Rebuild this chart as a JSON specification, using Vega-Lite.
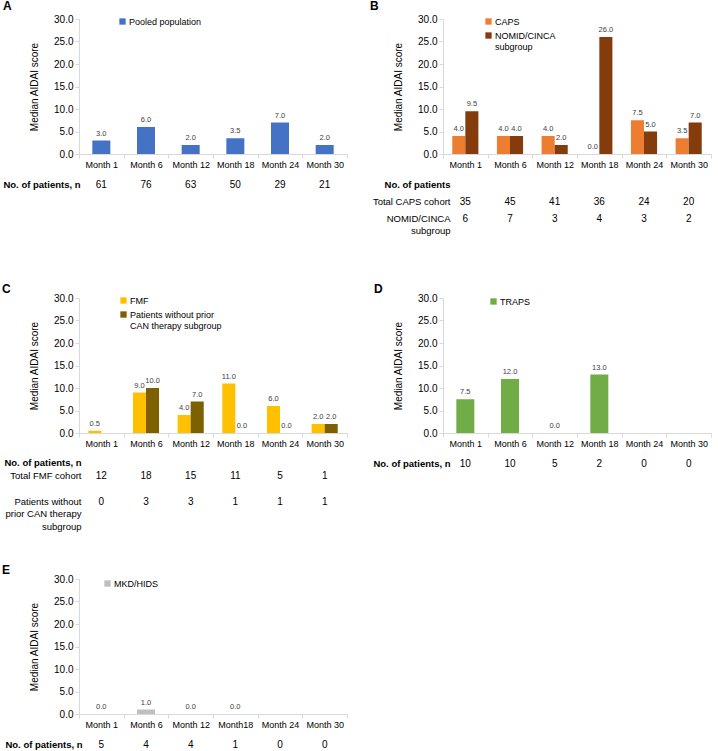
{
  "$schema": "https://vega.github.io/schema/vega-lite/v6.json",
  "autosize": {"type": "pad"},
  "padding": {"left": 2, "top": -1, "right": 0, "bottom": 0},
  "config": {
    "font": "Liberation Sans",
    "view": {"stroke": null},
    "axis": {"labelColor": "#000", "titleColor": "#000", "domainColor": "#D9D9D9", "tickColor": "#D9D9D9", "grid": false},
    "legend": {"symbolType": "square", "symbolSize": 40, "symbolStrokeWidth": 0, "labelFontSize": 9, "labelColor": "#000", "labelOffset": 2, "rowPadding": 4, "padding": 0, "labelLimit": 300},
    "title": {"anchor": "start", "frame": "group", "fontSize": 12, "fontWeight": "bold", "offset": 1.2, "color": "#000"}
  },
  "datasets": {
    "bars": [
      {"panel": "A", "month": "Month 1", "series": "Pooled population", "value": 3.0},
      {"panel": "A", "month": "Month 6", "series": "Pooled population", "value": 6.0},
      {"panel": "A", "month": "Month 12", "series": "Pooled population", "value": 2.0},
      {"panel": "A", "month": "Month 18", "series": "Pooled population", "value": 3.5},
      {"panel": "A", "month": "Month 24", "series": "Pooled population", "value": 7.0},
      {"panel": "A", "month": "Month 30", "series": "Pooled population", "value": 2.0},
      {"panel": "B", "month": "Month 1", "series": "CAPS", "value": 4.0},
      {"panel": "B", "month": "Month 6", "series": "CAPS", "value": 4.0},
      {"panel": "B", "month": "Month 12", "series": "CAPS", "value": 4.0},
      {"panel": "B", "month": "Month 18", "series": "CAPS", "value": 0.0},
      {"panel": "B", "month": "Month 24", "series": "CAPS", "value": 7.5},
      {"panel": "B", "month": "Month 30", "series": "CAPS", "value": 3.5},
      {"panel": "B", "month": "Month 1", "series": "NOMID/CINCA subgroup", "value": 9.5},
      {"panel": "B", "month": "Month 6", "series": "NOMID/CINCA subgroup", "value": 4.0},
      {"panel": "B", "month": "Month 12", "series": "NOMID/CINCA subgroup", "value": 2.0},
      {"panel": "B", "month": "Month 18", "series": "NOMID/CINCA subgroup", "value": 26.0},
      {"panel": "B", "month": "Month 24", "series": "NOMID/CINCA subgroup", "value": 5.0},
      {"panel": "B", "month": "Month 30", "series": "NOMID/CINCA subgroup", "value": 7.0},
      {"panel": "C", "month": "Month 1", "series": "FMF", "value": 0.5},
      {"panel": "C", "month": "Month 6", "series": "FMF", "value": 9.0},
      {"panel": "C", "month": "Month 12", "series": "FMF", "value": 4.0},
      {"panel": "C", "month": "Month 18", "series": "FMF", "value": 11.0},
      {"panel": "C", "month": "Month 24", "series": "FMF", "value": 6.0},
      {"panel": "C", "month": "Month 30", "series": "FMF", "value": 2.0},
      {"panel": "C", "month": "Month 6", "series": "Patients without prior CAN therapy subgroup", "value": 10.0},
      {"panel": "C", "month": "Month 12", "series": "Patients without prior CAN therapy subgroup", "value": 7.0},
      {"panel": "C", "month": "Month 18", "series": "Patients without prior CAN therapy subgroup", "value": 0.0},
      {"panel": "C", "month": "Month 24", "series": "Patients without prior CAN therapy subgroup", "value": 0.0},
      {"panel": "C", "month": "Month 30", "series": "Patients without prior CAN therapy subgroup", "value": 2.0},
      {"panel": "D", "month": "Month 1", "series": "TRAPS", "value": 7.5},
      {"panel": "D", "month": "Month 6", "series": "TRAPS", "value": 12.0},
      {"panel": "D", "month": "Month 12", "series": "TRAPS", "value": 0.0},
      {"panel": "D", "month": "Month 18", "series": "TRAPS", "value": 13.0},
      {"panel": "E", "month": "Month 1", "series": "MKD/HIDS", "value": 0.0},
      {"panel": "E", "month": "Month 6", "series": "MKD/HIDS", "value": 1.0},
      {"panel": "E", "month": "Month 12", "series": "MKD/HIDS", "value": 0.0},
      {"panel": "E", "month": "Month 18", "series": "MKD/HIDS", "value": 0.0}
    ],
    "counts": [
      {"panel": "A", "row": "No. of patients, n", "month": "Month 1", "n": 61},
      {"panel": "A", "row": "No. of patients, n", "month": "Month 6", "n": 76},
      {"panel": "A", "row": "No. of patients, n", "month": "Month 12", "n": 63},
      {"panel": "A", "row": "No. of patients, n", "month": "Month 18", "n": 50},
      {"panel": "A", "row": "No. of patients, n", "month": "Month 24", "n": 29},
      {"panel": "A", "row": "No. of patients, n", "month": "Month 30", "n": 21},
      {"panel": "B", "row": "Total CAPS cohort", "month": "Month 1", "n": 35},
      {"panel": "B", "row": "Total CAPS cohort", "month": "Month 6", "n": 45},
      {"panel": "B", "row": "Total CAPS cohort", "month": "Month 12", "n": 41},
      {"panel": "B", "row": "Total CAPS cohort", "month": "Month 18", "n": 36},
      {"panel": "B", "row": "Total CAPS cohort", "month": "Month 24", "n": 24},
      {"panel": "B", "row": "Total CAPS cohort", "month": "Month 30", "n": 20},
      {"panel": "B", "row": "NOMID/CINCA subgroup", "month": "Month 1", "n": 6},
      {"panel": "B", "row": "NOMID/CINCA subgroup", "month": "Month 6", "n": 7},
      {"panel": "B", "row": "NOMID/CINCA subgroup", "month": "Month 12", "n": 3},
      {"panel": "B", "row": "NOMID/CINCA subgroup", "month": "Month 18", "n": 4},
      {"panel": "B", "row": "NOMID/CINCA subgroup", "month": "Month 24", "n": 3},
      {"panel": "B", "row": "NOMID/CINCA subgroup", "month": "Month 30", "n": 2},
      {"panel": "C", "row": "Total FMF cohort", "month": "Month 1", "n": 12},
      {"panel": "C", "row": "Total FMF cohort", "month": "Month 6", "n": 18},
      {"panel": "C", "row": "Total FMF cohort", "month": "Month 12", "n": 15},
      {"panel": "C", "row": "Total FMF cohort", "month": "Month 18", "n": 11},
      {"panel": "C", "row": "Total FMF cohort", "month": "Month 24", "n": 5},
      {"panel": "C", "row": "Total FMF cohort", "month": "Month 30", "n": 1},
      {"panel": "C", "row": "Patients without prior CAN therapy subgroup", "month": "Month 1", "n": 0},
      {"panel": "C", "row": "Patients without prior CAN therapy subgroup", "month": "Month 6", "n": 3},
      {"panel": "C", "row": "Patients without prior CAN therapy subgroup", "month": "Month 12", "n": 3},
      {"panel": "C", "row": "Patients without prior CAN therapy subgroup", "month": "Month 18", "n": 1},
      {"panel": "C", "row": "Patients without prior CAN therapy subgroup", "month": "Month 24", "n": 1},
      {"panel": "C", "row": "Patients without prior CAN therapy subgroup", "month": "Month 30", "n": 1},
      {"panel": "D", "row": "No. of patients, n", "month": "Month 1", "n": 10},
      {"panel": "D", "row": "No. of patients, n", "month": "Month 6", "n": 10},
      {"panel": "D", "row": "No. of patients, n", "month": "Month 12", "n": 5},
      {"panel": "D", "row": "No. of patients, n", "month": "Month 18", "n": 2},
      {"panel": "D", "row": "No. of patients, n", "month": "Month 24", "n": 0},
      {"panel": "D", "row": "No. of patients, n", "month": "Month 30", "n": 0},
      {"panel": "E", "row": "No. of patients, n", "month": "Month 1", "n": 5},
      {"panel": "E", "row": "No. of patients, n", "month": "Month 6", "n": 4},
      {"panel": "E", "row": "No. of patients, n", "month": "Month 12", "n": 4},
      {"panel": "E", "row": "No. of patients, n", "month": "Month 18", "n": 1},
      {"panel": "E", "row": "No. of patients, n", "month": "Month 24", "n": 0},
      {"panel": "E", "row": "No. of patients, n", "month": "Month 30", "n": 0}
    ]
  },
  "spacing": 22,
  "resolve": {"scale": {"x": "independent", "y": "independent", "color": "independent", "xOffset": "independent"}, "legend": {"color": "independent"}},
  "hconcat": [
    {
      "bounds": "flush",
      "spacing": 0,
      "resolve": {"scale": {"x": "independent", "y": "independent", "color": "independent", "xOffset": "independent"}, "legend": {"color": "independent"}},
      "vconcat": [
        {
          "width": 268, "height": 135,
          "title": {"text": "A", "dx": -76},
          "data": {"name": "bars"},
          "transform": [{"filter": "datum.panel == 'A'"}],
          "encoding": {
            "x": {"field": "month", "type": "nominal", "scale": {"type": "band", "domain": ["Month 1", "Month 6", "Month 12", "Month 18", "Month 24", "Month 30"], "paddingInner": 0, "paddingOuter": 0}, "axis": {"title": null, "labelAngle": 0, "labelFontSize": 9, "tickBand": "extent", "tickSize": 4, "labelPadding": 2}},
            "xOffset": {"field": "series", "scale": {"domain": ["Pooled population"], "paddingInner": 0, "paddingOuter": 0.74}},
            "y": {"field": "value", "type": "quantitative", "scale": {"domain": [0, 30]}, "axis": {"title": "Median AIDAI score", "values": [0, 5, 10, 15, 20, 25, 30], "format": ".1f", "labelFontSize": 10, "titleFontSize": 10, "titleFontWeight": "normal", "titlePadding": 14, "tickSize": 4, "labelPadding": 2}}
          },
          "layer": [
            {"mark": {"type": "bar"}, "encoding": {"color": {"field": "series", "type": "nominal", "scale": {"domain": ["Pooled population"], "range": ["#4472C4"]}, "legend": {"orient": "none", "legendX": 39, "legendY": -2, "title": null}}}},
            {"mark": {"type": "text", "dy": -7, "fontSize": 7.5, "color": "#404040"}, "encoding": {"text": {"field": "value", "type": "quantitative", "format": ".1f"}}}
          ]
        },
        {
          "width": 268, "height": 144,
          "data": {"name": "counts"},
          "transform": [{"filter": "datum.panel == 'A'"}],
          "mark": {"type": "text", "fontSize": 10, "color": "#000"},
          "encoding": {
            "x": {"field": "month", "type": "nominal", "scale": {"type": "band", "domain": ["Month 1", "Month 6", "Month 12", "Month 18", "Month 24", "Month 30"], "paddingInner": 0, "paddingOuter": 0}, "axis": null},
            "y": {"field": "row", "type": "nominal", "scale": {"type": "band", "domain": [" ", "No. of patients, n", "  ", "   ", "    ", "     ", "      ", "       "], "paddingInner": 0, "paddingOuter": 0.235, "align": 0.75}, "axis": {"title": null, "domain": false, "ticks": false, "tickSize": 0, "labelPadding": -1, "labelFontSize": 9.5, "labelFontWeight": "bold", "labelLimit": 200}},
            "text": {"field": "n", "type": "quantitative"}
          }
        },
        {
          "width": 268, "height": 135,
          "title": {"text": "C", "dx": -77, "offset": -2.8},
          "data": {"name": "bars"},
          "transform": [{"filter": "datum.panel == 'C'"}],
          "encoding": {
            "x": {"field": "month", "type": "nominal", "scale": {"type": "band", "domain": ["Month 1", "Month 6", "Month 12", "Month 18", "Month 24", "Month 30"], "paddingInner": 0, "paddingOuter": 0}, "axis": {"title": null, "labelAngle": 0, "labelFontSize": 9, "tickBand": "extent", "tickSize": 4, "labelPadding": 2}},
            "xOffset": {"field": "series", "scale": {"domain": ["FMF", "Patients without prior CAN therapy subgroup"], "paddingInner": 0, "paddingOuter": 0.71}},
            "y": {"field": "value", "type": "quantitative", "scale": {"domain": [0, 30]}, "axis": {"title": "Median AIDAI score", "values": [0, 5, 10, 15, 20, 25, 30], "format": ".1f", "labelFontSize": 10, "titleFontSize": 10, "titleFontWeight": "normal", "titlePadding": 14, "tickSize": 4, "labelPadding": 2}}
          },
          "layer": [
            {"mark": {"type": "bar"}, "encoding": {"color": {"field": "series", "type": "nominal", "scale": {"domain": ["FMF", "Patients without prior CAN therapy subgroup"], "range": ["#FFC000", "#7F6000"]}, "legend": {"orient": "none", "legendX": 40, "legendY": -2, "title": null, "labelExpr": "datum.label == 'FMF' ? 'FMF' : ['Patients without prior', 'CAN therapy subgroup']"}}}},
            {"mark": {"type": "text", "dy": -7, "fontSize": 7.5, "color": "#404040"}, "encoding": {"text": {"field": "value", "type": "quantitative", "format": ".1f"}}}
          ]
        },
        {
          "width": 268, "height": 146,
          "data": {"name": "counts"},
          "transform": [{"filter": "datum.panel == 'C'"}],
          "mark": {"type": "text", "fontSize": 10, "color": "#000"},
          "encoding": {
            "x": {"field": "month", "type": "nominal", "scale": {"type": "band", "domain": ["Month 1", "Month 6", "Month 12", "Month 18", "Month 24", "Month 30"], "paddingInner": 0, "paddingOuter": 0}, "axis": null},
            "y": {"field": "row", "type": "nominal", "scale": {"type": "band", "domain": [" ", "No. of patients, n", "Total FMF cohort", "  ", "Patients without prior CAN therapy subgroup", "   ", "    ", "     ", "      ", "       "], "paddingInner": 0, "paddingOuter": 0.615, "align": 0.656}, "axis": {"title": null, "domain": false, "ticks": false, "tickSize": 0, "labelPadding": -2, "labelFontSize": 9.5, "labelLineHeight": 12.5, "labelLimit": 200, "labelFontWeight": {"expr": "datum.value == 'No. of patients, n' ? 'bold' : 'normal'"}, "labelExpr": "datum.value == 'Patients without prior CAN therapy subgroup' ? ['Patients without', 'prior CAN therapy', 'subgroup'] : datum.value"}},
            "text": {"field": "n", "type": "quantitative"}
          }
        },
        {
          "width": 268, "height": 135,
          "title": {"text": "E", "dx": -77, "offset": -2.8},
          "data": {"name": "bars"},
          "transform": [{"filter": "datum.panel == 'E'"}],
          "encoding": {
            "x": {"field": "month", "type": "nominal", "scale": {"type": "band", "domain": ["Month 1", "Month 6", "Month 12", "Month 18", "Month 24", "Month 30"], "paddingInner": 0, "paddingOuter": 0}, "axis": {"title": null, "labelAngle": 0, "labelFontSize": 9, "tickBand": "extent", "tickSize": 4, "labelPadding": 2, "labelExpr": "datum.label == 'Month 18' ? 'Month18' : datum.label"}},
            "xOffset": {"field": "series", "scale": {"domain": ["MKD/HIDS"], "paddingInner": 0, "paddingOuter": 0.74}},
            "y": {"field": "value", "type": "quantitative", "scale": {"domain": [0, 30]}, "axis": {"title": "Median AIDAI score", "values": [0, 5, 10, 15, 20, 25, 30], "format": ".1f", "labelFontSize": 10, "titleFontSize": 10, "titleFontWeight": "normal", "titlePadding": 14, "tickSize": 4, "labelPadding": 2}}
          },
          "layer": [
            {"mark": {"type": "bar"}, "encoding": {"color": {"field": "series", "type": "nominal", "scale": {"domain": ["MKD/HIDS"], "range": ["#BFBFBF"]}, "legend": {"orient": "none", "legendX": 24, "legendY": 0, "title": null}}}},
            {"mark": {"type": "text", "dy": -7, "fontSize": 7.5, "color": "#404040"}, "encoding": {"text": {"field": "value", "type": "quantitative", "format": ".1f"}}}
          ]
        },
        {
          "width": 268, "height": 37,
          "data": {"name": "counts"},
          "transform": [{"filter": "datum.panel == 'E'"}],
          "mark": {"type": "text", "fontSize": 10, "color": "#000"},
          "encoding": {
            "x": {"field": "month", "type": "nominal", "scale": {"type": "band", "domain": ["Month 1", "Month 6", "Month 12", "Month 18", "Month 24", "Month 30"], "paddingInner": 0, "paddingOuter": 0}, "axis": null},
            "y": {"field": "row", "type": "nominal", "scale": {"type": "band", "domain": ["No. of patients, n"], "paddingInner": 0, "paddingOuter": 1, "align": 1}, "axis": {"title": null, "domain": false, "ticks": false, "tickSize": 0, "labelPadding": -3, "labelFontSize": 9.5, "labelFontWeight": "bold", "labelLimit": 200}},
            "text": {"field": "n", "type": "quantitative"}
          }
        }
      ]
    },
    {
      "bounds": "flush",
      "spacing": 0,
      "resolve": {"scale": {"x": "independent", "y": "independent", "color": "independent", "xOffset": "independent"}, "legend": {"color": "independent"}},
      "vconcat": [
        {
          "width": 268, "height": 135,
          "title": {"text": "B", "dx": -73},
          "data": {"name": "bars"},
          "transform": [{"filter": "datum.panel == 'B'"}],
          "encoding": {
            "x": {"field": "month", "type": "nominal", "scale": {"type": "band", "domain": ["Month 1", "Month 6", "Month 12", "Month 18", "Month 24", "Month 30"], "paddingInner": 0, "paddingOuter": 0}, "axis": {"title": null, "labelAngle": 0, "labelFontSize": 9, "tickBand": "extent", "tickSize": 4, "labelPadding": 2}},
            "xOffset": {"field": "series", "scale": {"domain": ["CAPS", "NOMID/CINCA subgroup"], "paddingInner": 0, "paddingOuter": 0.71}},
            "y": {"field": "value", "type": "quantitative", "scale": {"domain": [0, 30]}, "axis": {"title": "Median AIDAI score", "values": [0, 5, 10, 15, 20, 25, 30], "format": ".1f", "labelFontSize": 10, "titleFontSize": 10, "titleFontWeight": "normal", "titlePadding": 14, "tickSize": 4, "labelPadding": 2}}
          },
          "layer": [
            {"mark": {"type": "bar"}, "encoding": {"color": {"field": "series", "type": "nominal", "scale": {"domain": ["CAPS", "NOMID/CINCA subgroup"], "range": ["#ED7D31", "#843C0C"]}, "legend": {"orient": "none", "legendX": 41, "legendY": -2, "title": null, "labelExpr": "datum.label == 'CAPS' ? 'CAPS' : ['NOMID/CINCA', 'subgroup']"}}}},
            {"mark": {"type": "text", "dy": -7, "fontSize": 7.5, "color": "#404040"}, "encoding": {"text": {"field": "value", "type": "quantitative", "format": ".1f"}}}
          ]
        },
        {
          "width": 268, "height": 144,
          "data": {"name": "counts"},
          "transform": [{"filter": "datum.panel == 'B'"}],
          "mark": {"type": "text", "fontSize": 10, "color": "#000"},
          "encoding": {
            "x": {"field": "month", "type": "nominal", "scale": {"type": "band", "domain": ["Month 1", "Month 6", "Month 12", "Month 18", "Month 24", "Month 30"], "paddingInner": 0, "paddingOuter": 0}, "axis": null},
            "y": {"field": "row", "type": "nominal", "scale": {"type": "band", "domain": [" ", "No. of patients", "Total CAPS cohort", "NOMID/CINCA subgroup", "  ", "   ", "    ", "     "], "paddingInner": 0, "paddingOuter": 0.235, "align": 0.6875}, "axis": {"title": null, "domain": false, "ticks": false, "tickSize": 0, "labelPadding": -7, "labelFontSize": 9.5, "labelLineHeight": 12.5, "labelLimit": 200, "labelFontWeight": {"expr": "datum.value == 'No. of patients' ? 'bold' : 'normal'"}, "labelExpr": "datum.value == 'NOMID/CINCA subgroup' ? ['NOMID/CINCA', 'subgroup'] : datum.value"}},
            "text": {"field": "n", "type": "quantitative"}
          }
        },
        {
          "width": 268, "height": 135,
          "title": {"text": "D", "dx": -69, "offset": -2.8},
          "data": {"name": "bars"},
          "transform": [{"filter": "datum.panel == 'D'"}],
          "encoding": {
            "x": {"field": "month", "type": "nominal", "scale": {"type": "band", "domain": ["Month 1", "Month 6", "Month 12", "Month 18", "Month 24", "Month 30"], "paddingInner": 0, "paddingOuter": 0}, "axis": {"title": null, "labelAngle": 0, "labelFontSize": 9, "tickBand": "extent", "tickSize": 4, "labelPadding": 2}},
            "xOffset": {"field": "series", "scale": {"domain": ["TRAPS"], "paddingInner": 0, "paddingOuter": 0.74}},
            "y": {"field": "value", "type": "quantitative", "scale": {"domain": [0, 30]}, "axis": {"title": "Median AIDAI score", "values": [0, 5, 10, 15, 20, 25, 30], "format": ".1f", "labelFontSize": 10, "titleFontSize": 10, "titleFontWeight": "normal", "titlePadding": 14, "tickSize": 4, "labelPadding": 2}}
          },
          "layer": [
            {"mark": {"type": "bar"}, "encoding": {"color": {"field": "series", "type": "nominal", "scale": {"domain": ["TRAPS"], "range": ["#70AD47"]}, "legend": {"orient": "none", "legendX": 46, "legendY": -1, "title": null}}}},
            {"mark": {"type": "text", "dy": -7, "fontSize": 7.5, "color": "#404040"}, "encoding": {"text": {"field": "value", "type": "quantitative", "format": ".1f"}}}
          ]
        },
        {
          "width": 268, "height": 146,
          "data": {"name": "counts"},
          "transform": [{"filter": "datum.panel == 'D'"}],
          "mark": {"type": "text", "fontSize": 10, "color": "#000"},
          "encoding": {
            "x": {"field": "month", "type": "nominal", "scale": {"type": "band", "domain": ["Month 1", "Month 6", "Month 12", "Month 18", "Month 24", "Month 30"], "paddingInner": 0, "paddingOuter": 0}, "axis": null},
            "y": {"field": "row", "type": "nominal", "scale": {"type": "band", "domain": [" ", "No. of patients, n", "  ", "   ", "    ", "     ", "      ", "       "], "paddingInner": 0, "paddingOuter": 0.294, "align": 0.55}, "axis": {"title": null, "domain": false, "ticks": false, "tickSize": 0, "labelPadding": -7, "labelFontSize": 9.5, "labelFontWeight": "bold", "labelLimit": 200}},
            "text": {"field": "n", "type": "quantitative"}
          }
        }
      ]
    }
  ]
}
